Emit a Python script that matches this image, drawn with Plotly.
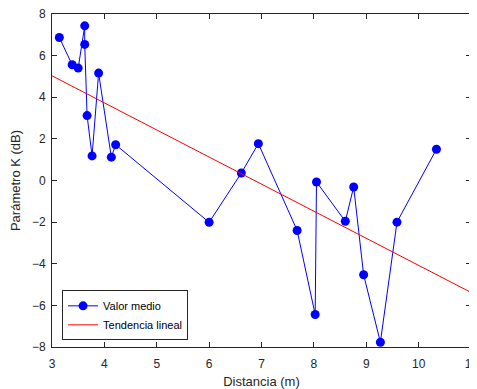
import plotly.graph_objects as go

distancia = [3.14, 3.385, 3.50, 3.625, 3.625, 3.67, 3.765, 3.89, 4.133, 4.215,
             6.0, 6.615, 6.94, 7.68, 8.025, 8.05, 8.60, 8.76, 8.95, 9.27, 9.587, 10.34]
k_medio = [6.87, 5.56, 5.40, 7.43, 6.54, 3.12, 1.18, 5.16, 1.12, 1.72,
           -2.01, 0.36, 1.77, -2.40, -6.44, -0.07, -1.96, -0.31, -4.53, -7.77, -2.0, 1.50]
tend_x = [3, 11]
tend_y = [5.03, -5.38]

x_ticks = [3, 4, 5, 6, 7, 8, 9, 10, 11]
y_ticks = [-8, -6, -4, -2, 0, 2, 4, 6, 8]

fig = go.Figure()
fig.add_trace(go.Scatter(x=distancia, y=k_medio, mode="lines+markers", name="Valor medio",
                         line=dict(color="#0000ff", width=1),
                         marker=dict(color="#0000ff", size=9)))
fig.add_trace(go.Scatter(x=tend_x, y=tend_y, mode="lines", name="Tendencia lineal",
                         line=dict(color="#ff0000", width=1)))

axis_common = dict(showgrid=False, zeroline=False, showline=True, linecolor="#262626",
                   linewidth=1, mirror="allticks", ticks="inside", ticklen=5,
                   tickcolor="#262626", tickfont=dict(size=12, color="#262626"),
                   automargin=False, ticklabeloverflow="allow")

# page body has an 8px default margin; size/margins compensate for it
fig.update_layout(
    width=469, height=381,
    margin=dict(l=44, r=6, t=6, b=42),
    paper_bgcolor="white", plot_bgcolor="white",
    font=dict(family="Liberation Sans, Arial, sans-serif", color="#262626"),
    showlegend=True,
    legend=dict(x=0.024, y=0.02, xanchor="left", yanchor="bottom",
                bordercolor="#262626", borderwidth=1, bgcolor="white",
                font=dict(size=11, color="#000000"), tracegroupgap=0),
    xaxis=dict(range=[3, 11], tickvals=x_ticks, ticklabelstandoff=6,
               title=dict(text="Distancia (m)", font=dict(size=13)),
               **axis_common),
    yaxis=dict(range=[-8, 8], tickvals=y_ticks, ticklabelstandoff=3,
               title=dict(text="Parámetro K (dB)", font=dict(size=13)),
               **axis_common),
)

fig.write_html("out.html")
